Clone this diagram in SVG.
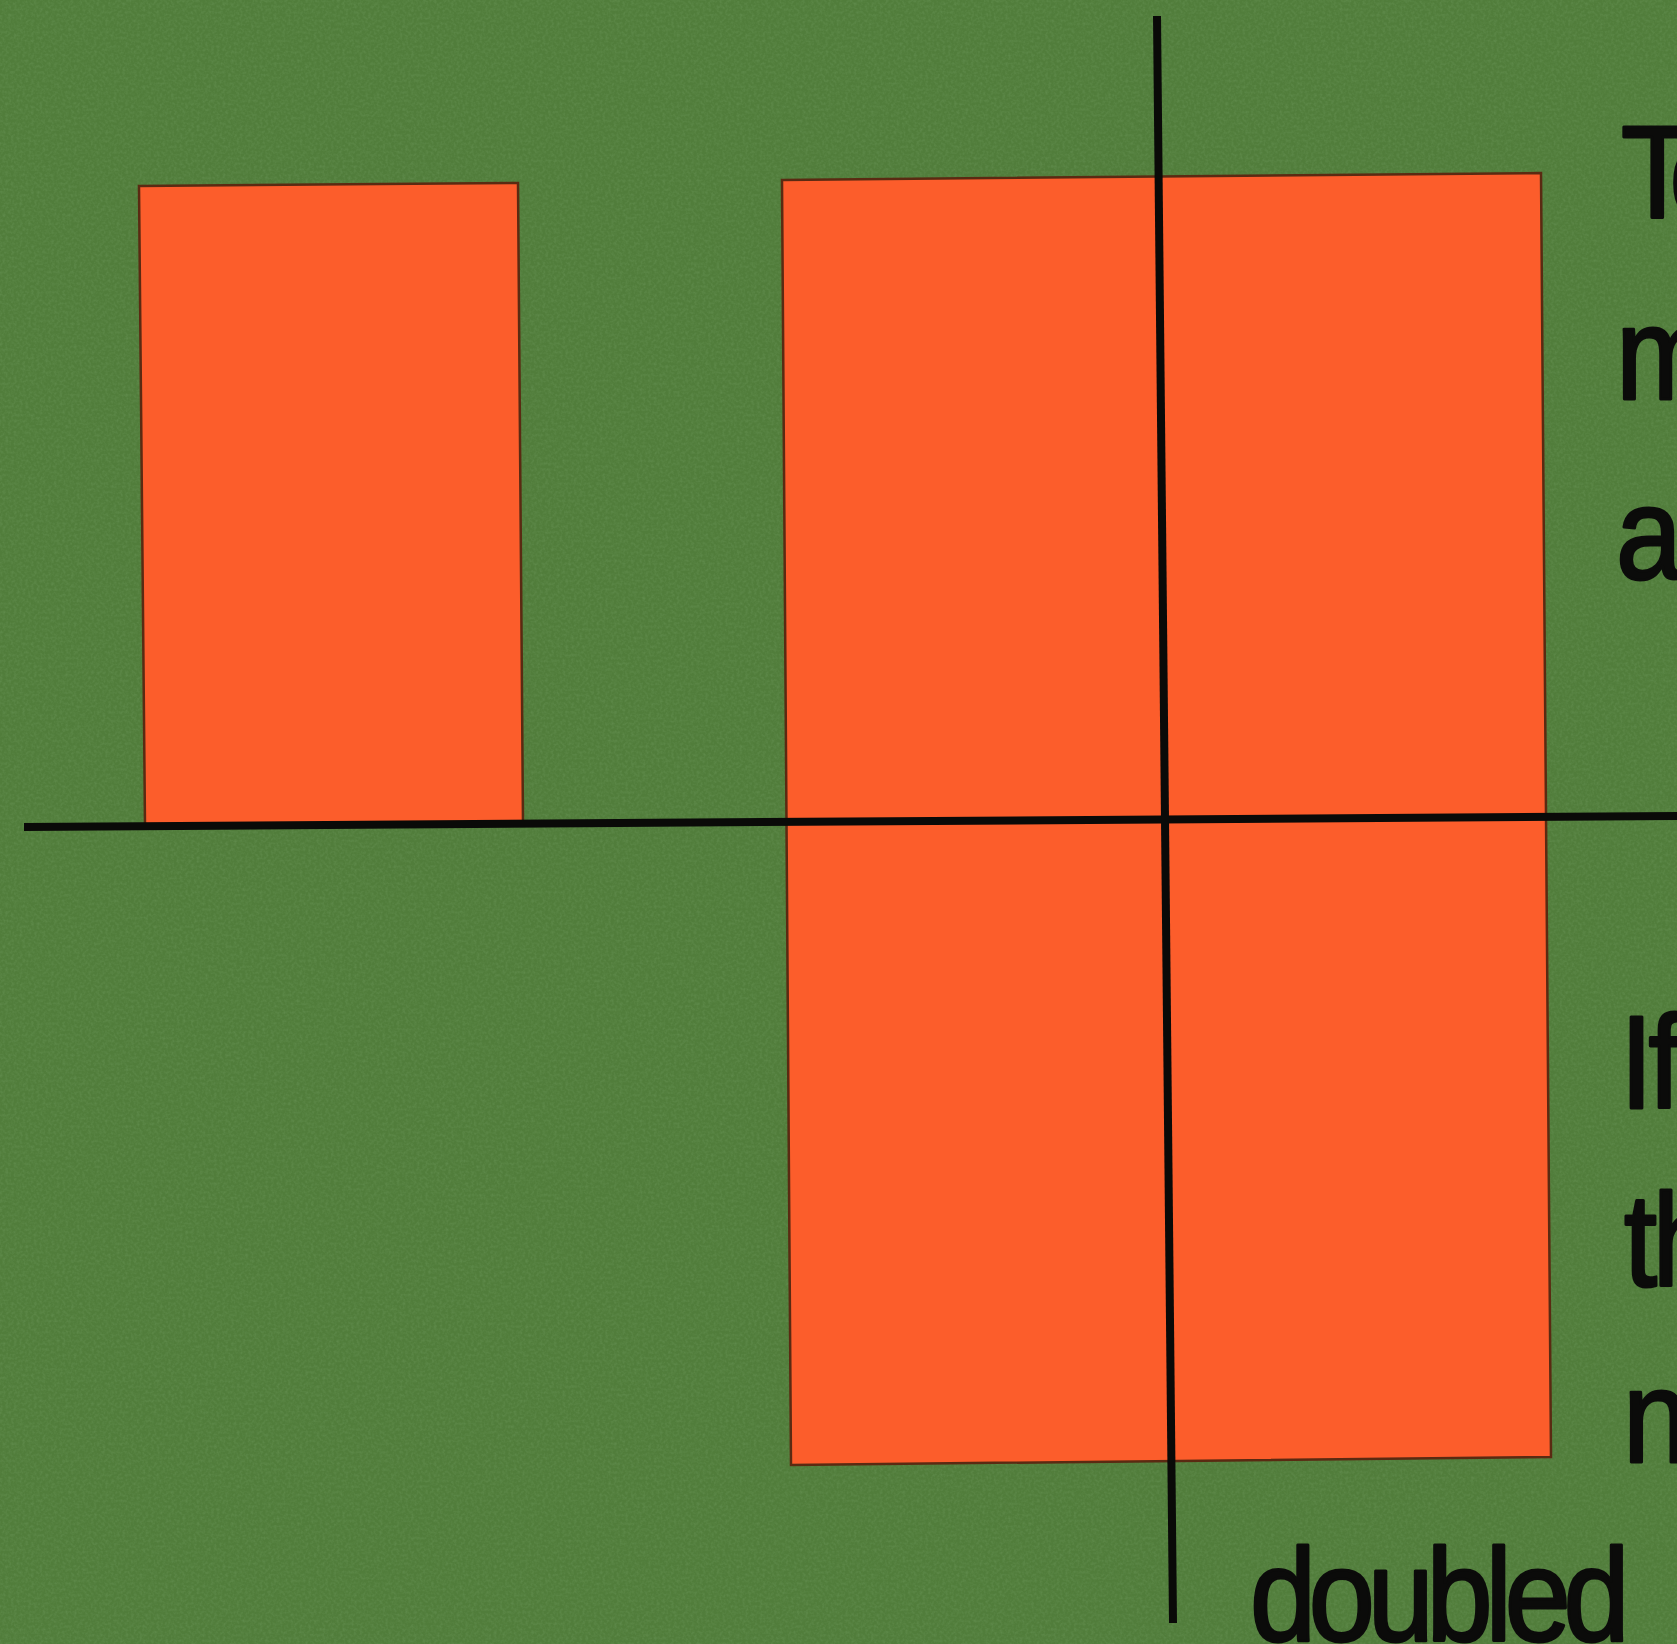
<svg xmlns="http://www.w3.org/2000/svg" width="1677" height="1644" viewBox="0 0 1677 1644">
<style>
.bar{fill:#fc5d2b;stroke:#5a2a12;stroke-width:2.5;stroke-linejoin:miter}
.axis{stroke:#0a0a08;stroke-width:8;stroke-linecap:butt;fill:none}
.txt{font-family:"Liberation Sans",Arial,Helvetica,sans-serif;font-size:132px;fill:#0b0b0a;stroke:#0b0b0a;stroke-width:3;stroke-linejoin:round;letter-spacing:-5px}
.tight{letter-spacing:-12px}
.dbl{letter-spacing:-8px}
</style>
<defs>
<filter id="grain" x="0" y="0" width="100%" height="100%">
<feTurbulence type="fractalNoise" baseFrequency="0.35" numOctaves="2" seed="3" result="n"/>
<feColorMatrix type="matrix" values="0 0 0 0 0.25  0 0 0 0 0.45  0 0 0 0 0.2  0 0 0 -1.2 0.75"/>
</filter>
</defs>
<rect id="background" x="0" y="0" width="1677" height="1644" fill="#517d3b"/>
<rect x="0" y="0" width="1677" height="1644" filter="url(#grain)" opacity="0.35"/>
<g id="bar-left">
<polygon class="bar" points="139,186 518,183 523,823 145,825"/>
</g>
<g id="bar-right">
<polygon class="bar" points="782,180 1541,173 1551,1457 791,1465"/>
</g>
<g id="connectors">
<line class="axis" x1="24" y1="827" x2="1677" y2="816"/>
<line class="axis" x1="1157" y1="16" x2="1173" y2="1623"/>
</g>
<g id="text-top">
<text class="txt tight" transform="translate(1621,218) scale(0.9,1)">To</text>
<text class="txt" transform="translate(1616,399) scale(0.9,1)">m</text>
<text class="txt" transform="translate(1616,579) scale(0.9,1)">a</text>
</g>
<g id="text-bottom">
<text class="txt" transform="translate(1620,1108) scale(0.9,1)">If</text>
<text class="txt" transform="translate(1624,1286) scale(0.9,1)">th</text>
<text class="txt" transform="translate(1623,1462) scale(0.9,1)">n</text>
<text class="txt dbl" transform="translate(1250,1641) scale(0.9,1)">doubled</text>
</g>
</svg>
